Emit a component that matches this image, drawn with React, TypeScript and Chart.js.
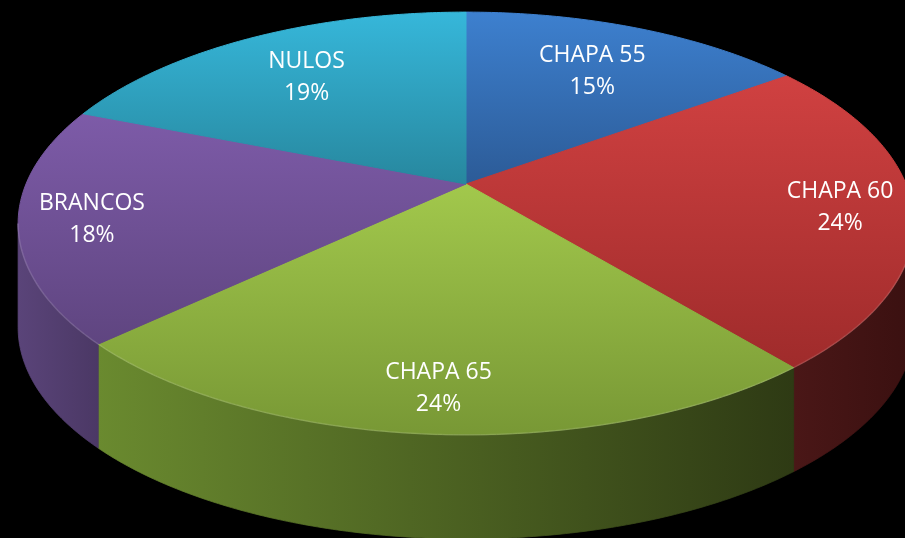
import React, { useEffect, useRef } from "react";
import { Chart, registerables } from "chart.js";

Chart.register(...registerables);

// ---- data ----
const categories = ["CHAPA 55", "CHAPA 60", "CHAPA 65", "BRANCOS", "NULOS"];
const shares = [15, 24, 24, 18, 19];

// ---- styles ----
const topLight = ["#3D80CF", "#D04141", "#A2C84C", "#7D5BA8", "#36B7DA"];
const topDark = ["#2C5B97", "#9F2B2B", "#789835", "#5F4580", "#27879E"];
const sideLeft = ["#24497A", "#4A1717", "#6A8A2F", "#5A4479", "#1F6A7C"];
const sideRight = ["#1A3558", "#3A1010", "#2E3A14", "#4B3865", "#174F5C"];

// view (perspective of the tilted pie)
const VIEW = { cx: 466, cy: 184, sx: 440, sy: 204, k: 0.1868, depth: 104 };
const TAU = Math.PI * 2;

function projUnit(u: number, v: number) {
  const d = 1 - VIEW.k * v;
  return { x: VIEW.cx + (VIEW.sx * u) / d, y: VIEW.cy + (VIEW.sy * v) / d };
}

function sliceAngles(i: number) {
  const total = shares.reduce((a, b) => a + b, 0);
  let acc = 0;
  for (let j = 0; j < i; j++) acc += shares[j];
  const s = -Math.PI / 2 + (TAU * acc) / total;
  const e = s + (TAU * shares[i]) / total;
  return [s, e];
}

function topGradient(ctx: CanvasRenderingContext2D, i: number) {
  const [s, e] = sliceAngles(i);
  let minY = projUnit(0, 0).y;
  let maxY = minY;
  const n = 120;
  for (let j = 0; j <= n; j++) {
    const t = s + ((e - s) * j) / n;
    const p = projUnit(Math.cos(t), Math.sin(t));
    minY = Math.min(minY, p.y);
    maxY = Math.max(maxY, p.y);
  }
  const g = ctx.createLinearGradient(0, minY, 0, maxY);
  g.addColorStop(0, topLight[i]);
  g.addColorStop(1, topDark[i]);
  return g;
}

const pie3d = {
  id: "pie3d",
  beforeDatasetsDraw(chart: any) {
    const meta = chart.getDatasetMeta(0);
    const arcs = meta.data;
    if (!arcs.length) return;
    const a0 = arcs[0];
    const ox = a0.x, oy = a0.y, R = a0.outerRadius;
    const ctx: CanvasRenderingContext2D = chart.ctx;
    const toScreen = (x: number, y: number) => projUnit((x - ox) / R, (y - oy) / R);

    // side walls
    const tMin = Math.asin(VIEW.k);
    const tMax = Math.PI - tMin;
    arcs.forEach((arc: any, i: number) => {
      const s = Math.max(arc.startAngle, tMin);
      const e = Math.min(arc.endAngle, tMax);
      if (e <= s) return;
      const n = Math.ceil((e - s) / 0.01) + 1;
      const pts: { x: number; y: number }[] = [];
      for (let j = 0; j <= n; j++) {
        const t = s + ((e - s) * j) / n;
        pts.push(toScreen(ox + R * Math.cos(t), oy + R * Math.sin(t)));
      }
      let minX = Infinity, maxX = -Infinity;
      pts.forEach((p) => { minX = Math.min(minX, p.x); maxX = Math.max(maxX, p.x); });
      ctx.save();
      ctx.beginPath();
      pts.forEach((p, j) => (j === 0 ? ctx.moveTo(p.x, p.y) : ctx.lineTo(p.x, p.y)));
      for (let j = pts.length - 1; j >= 0; j--) ctx.lineTo(pts[j].x, pts[j].y + VIEW.depth);
      ctx.closePath();
      const g = ctx.createLinearGradient(minX, 0, maxX, 0);
      g.addColorStop(0, sideLeft[i]);
      g.addColorStop(1, sideRight[i]);
      ctx.fillStyle = g;
      ctx.fill();
      ctx.strokeStyle = g;
      ctx.lineWidth = 0.8;
      ctx.stroke();
      ctx.restore();
    });

    // project the library's own arc paths onto the tilted plane
    const c: any = ctx;
    const proto = CanvasRenderingContext2D.prototype;
    c.moveTo = (x: number, y: number) => {
      const p = toScreen(x, y);
      proto.moveTo.call(ctx, p.x, p.y);
    };
    c.lineTo = (x: number, y: number) => {
      const p = toScreen(x, y);
      proto.lineTo.call(ctx, p.x, p.y);
    };
    c.arc = (x: number, y: number, r: number, a1: number, a2: number, ccw?: boolean) => {
      if (![x, y, r, a1, a2].every(Number.isFinite)) return;
      let sweep = a2 - a1;
      if (!ccw && sweep < 0) sweep += TAU;
      if (ccw && sweep > 0) sweep -= TAU;
      sweep = Math.max(-TAU, Math.min(TAU, sweep));
      const n = Math.max(2, Math.ceil(Math.abs(sweep) / 0.01));
      for (let j = 0; j <= n; j++) {
        const a = a1 + (sweep * j) / n;
        const p = toScreen(x + r * Math.cos(a), y + r * Math.sin(a));
        proto.lineTo.call(ctx, p.x, p.y);
      }
    };
  },
  afterDatasetsDraw(chart: any) {
    const ctx: CanvasRenderingContext2D = chart.ctx;
    const c: any = ctx;
    delete c.moveTo;
    delete c.lineTo;
    delete c.arc;

    const meta = chart.getDatasetMeta(0);
    const arcs = meta.data;
    if (!arcs.length) return;
    const a0 = arcs[0];
    const ox = a0.x, oy = a0.y, R = a0.outerRadius;
    const toScreen = (x: number, y: number) => projUnit((x - ox) / R, (y - oy) / R);

    // bevel highlight along the front rim
    const tMin = Math.asin(VIEW.k);
    const tMax = Math.PI - tMin;
    ctx.save();
    ctx.beginPath();
    const n = 300;
    for (let j = 0; j <= n; j++) {
      const t = tMin + ((tMax - tMin) * j) / n;
      const p = toScreen(ox + R * Math.cos(t), oy + R * Math.sin(t));
      j === 0 ? ctx.moveTo(p.x, p.y) : ctx.lineTo(p.x, p.y);
    }
    ctx.strokeStyle = "rgba(255,255,255,0.14)";
    ctx.lineWidth = 1.5;
    ctx.stroke();
    ctx.restore();

    // labels
    const total = shares.reduce((a, b) => a + b, 0);
    ctx.save();
    ctx.fillStyle = "#FFFFFF";
    ctx.font = '23px "Open Sans"';
    ctx.textAlign = "center";
    ctx.textBaseline = "middle";
    arcs.forEach((arc: any, i: number) => {
      const mid = (arc.startAngle + arc.endAngle) / 2;
      const dirV = Math.sin(mid);
      const rho = dirV < 0 ? 0.84 + 0.15 * dirV : 0.84;
      const p = toScreen(ox + rho * R * Math.cos(mid), oy + rho * R * Math.sin(mid));
      const pct = Math.round((shares[i] / total) * 100) + "%";
      const y = p.y + 2;
      ctx.fillText(categories[i], p.x, y - 16);
      ctx.fillText(pct, p.x, y + 16);
    });
    ctx.restore();
  },
};

export default function App() {
  const ref = useRef<HTMLCanvasElement | null>(null);
  useEffect(() => {
    if (!ref.current) return;
    const chart = new Chart(ref.current, {
      type: "pie",
      data: {
        labels: categories,
        datasets: [
          {
            data: shares,
            backgroundColor: (c: any) =>
              c.dataIndex === undefined ? topLight[0] : topGradient(c.chart.ctx, c.dataIndex),
            borderColor: (c: any) =>
              c.dataIndex === undefined ? topLight[0] : topGradient(c.chart.ctx, c.dataIndex),
            borderWidth: 1,
            clip: false,
          } as any,
        ],
      },
      options: {
        animation: false,
        responsive: true,
        maintainAspectRatio: false,
        layout: { padding: 0 },
        events: [],
        plugins: {
          legend: { display: false },
          tooltip: { enabled: false },
        },
      },
      plugins: [pie3d],
    });
    return () => chart.destroy();
  }, []);
  return (
    <div
      style={{
        position: "fixed",
        left: 0,
        top: 0,
        width: 905,
        height: 538,
        background: "#000000",
      }}
    >
      <canvas ref={ref} />
    </div>
  );
}
